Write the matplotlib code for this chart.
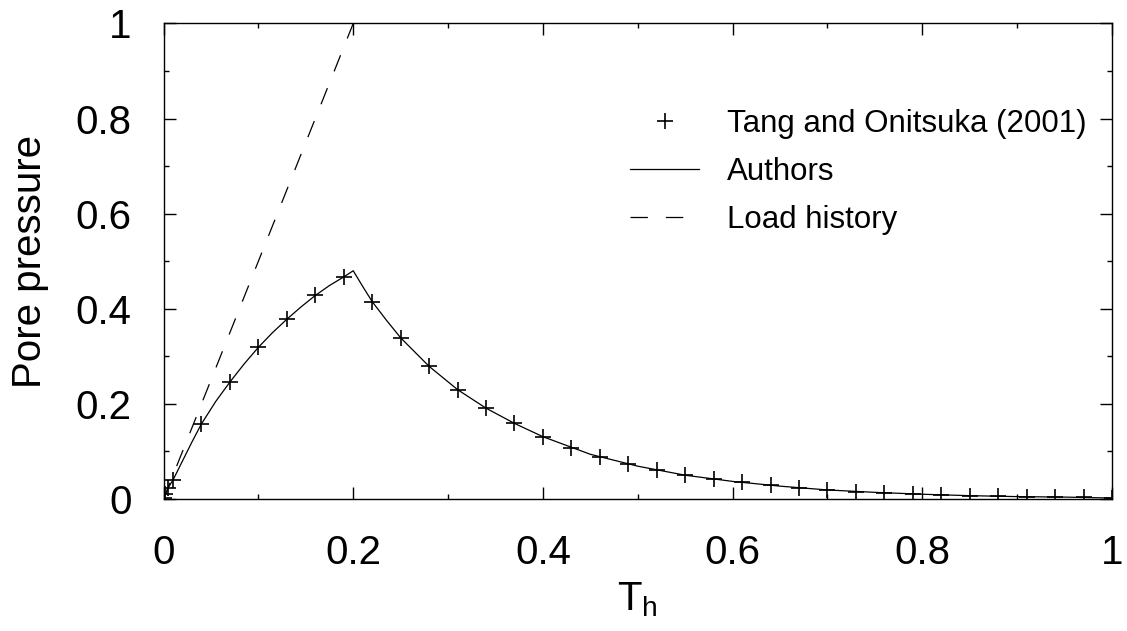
import matplotlib
matplotlib.use("Agg")
import matplotlib.pyplot as plt
from matplotlib.ticker import MultipleLocator, FormatStrFormatter

plt.rcParams['font.family'] = ['Liberation Sans', 'DejaVu Sans']
plt.rcParams['mathtext.fontset'] = 'custom'
plt.rcParams['mathtext.rm'] = 'Liberation Sans'
plt.rcParams['lines.scale_dashes'] = False

# Tang and Onitsuka (2001)
tang_t = [0.0005, 0.002, 0.005, 0.01, 0.04, 0.07, 0.10, 0.13, 0.16, 0.19,
          0.22, 0.25, 0.28, 0.31, 0.34, 0.37, 0.40, 0.43, 0.46, 0.49,
          0.52, 0.55, 0.58, 0.61, 0.64, 0.67, 0.70, 0.73, 0.76, 0.79,
          0.82, 0.85, 0.88, 0.91, 0.94, 0.97, 1.00]
tang_u = [0.003, 0.010, 0.024, 0.040, 0.158, 0.246, 0.319, 0.378, 0.428, 0.467,
          0.415, 0.339, 0.279, 0.230, 0.191, 0.159, 0.131, 0.108, 0.089, 0.073,
          0.061, 0.050, 0.042, 0.035, 0.029, 0.023, 0.019, 0.0155, 0.013, 0.011,
          0.009, 0.007, 0.006, 0.005, 0.004, 0.0035, 0.003]

# authors' solution
auth_t = [0.0, 0.005, 0.01, 0.02, 0.03, 0.04, 0.055, 0.07, 0.085, 0.10,
          0.115, 0.13, 0.145, 0.16, 0.175, 0.19, 0.20, 0.21, 0.22, 0.235,
          0.25, 0.28, 0.31, 0.34, 0.37, 0.40, 0.45, 0.50, 0.55, 0.60,
          0.65, 0.70, 0.75, 0.80, 0.85, 0.90, 0.95, 1.00]
auth_u = [0.0, 0.024, 0.040, 0.080, 0.120, 0.158, 0.205, 0.246, 0.284, 0.319,
          0.350, 0.378, 0.404, 0.428, 0.449, 0.467, 0.480, 0.447, 0.415, 0.376,
          0.339, 0.279, 0.230, 0.191, 0.159, 0.131, 0.094, 0.069, 0.050, 0.037,
          0.027, 0.019, 0.014, 0.010, 0.007, 0.005, 0.004, 0.002]

# load history (ramp)
load_t = [0.0, 0.2]
load_u = [0.0, 1.0]

fig = plt.figure(figsize=(11.27, 6.31), dpi=100)
ax = fig.add_axes([0.1451, 0.2092, 0.8416, 0.7536])

ax.plot(tang_t, tang_u, linestyle='none', marker='+', color='black',
        markersize=12, markeredgewidth=1.2, label='Tang and Onitsuka (2001)')
ax.plot(auth_t, auth_u, '-', color='black', linewidth=0.9, label='Authors')
ax.plot(load_t, load_u, color='black', linewidth=0.9, dashes=(12.5, 13),
        label='Load history')

ax.set_xlim(0, 1)
ax.set_ylim(0, 1)
ax.xaxis.set_major_locator(MultipleLocator(0.2))
ax.xaxis.set_minor_locator(MultipleLocator(0.1))
ax.yaxis.set_major_locator(MultipleLocator(0.2))
ax.yaxis.set_minor_locator(MultipleLocator(0.1))
fmt = FormatStrFormatter('%g')
ax.xaxis.set_major_formatter(fmt)
ax.yaxis.set_major_formatter(fmt)

ax.tick_params(which='both', direction='in', top=True, right=True, colors='black')
ax.tick_params(which='major', length=8.5, width=1)
ax.tick_params(which='minor', length=3.6, width=1)
ax.tick_params(axis='y', which='major', labelsize=29, pad=23)
ax.tick_params(axis='x', which='major', labelsize=29, pad=25)
for sp in ax.spines.values():
    sp.set_linewidth(1)

ax.set_ylabel('Pore pressure', fontsize=29, labelpad=19)
ax.set_xlabel(r'T$_\mathrm{h}$', fontsize=29, labelpad=6)

ax.legend(loc='upper left', bbox_to_anchor=(0.492, 0.82), frameon=False,
          fontsize=22.5, handlelength=2.2, handletextpad=0.9,
          labelspacing=0.58, borderpad=0, borderaxespad=0, numpoints=1)

fig.savefig('out.png', dpi=100)
